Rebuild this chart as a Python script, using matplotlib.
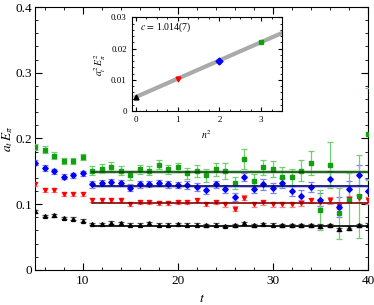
import numpy as np
import matplotlib
matplotlib.use("Agg")
import matplotlib.pyplot as plt
from matplotlib.ticker import MultipleLocator, FuncFormatter

plt.rcParams["font.family"] = ["Liberation Serif", "DejaVu Serif"]
plt.rcParams["mathtext.fontset"] = "stix"

t = np.arange(5, 41)

# a_t E_pi for the four momenta (n^2 = 0, 1, 2, 3)
black = [0.089, 0.082, 0.083, 0.079, 0.078, 0.075, 0.070, 0.070, 0.072, 0.071,
         0.069, 0.069, 0.071, 0.069, 0.069, 0.070, 0.069, 0.069, 0.068, 0.069,
         0.067, 0.068, 0.071, 0.068, 0.070, 0.069, 0.068, 0.068, 0.068, 0.068,
         0.067, 0.068, 0.062, 0.064, 0.068, 0.069]
black_err = [0.002] * 6 + [0.002] * 20 + [0.0025] * 10

red = [0.131, 0.122, 0.121, 0.116, 0.116, 0.116, 0.106, 0.106, 0.107, 0.106,
       0.100, 0.103, 0.104, 0.102, 0.102, 0.103, 0.103, 0.106, 0.100, 0.103,
       0.100, 0.093, 0.110, 0.100, 0.103, 0.100, 0.100, 0.100, 0.102, 0.106,
       0.103, 0.106, 0.098, 0.108, 0.109, 0.106]
red_err = [0.003] * 20 + [0.004] * 10 + [0.005] * 6

blue = [0.163, 0.155, 0.150, 0.142, 0.144, 0.147, 0.130, 0.132, 0.134, 0.132,
        0.125, 0.130, 0.131, 0.132, 0.130, 0.129, 0.129, 0.126, 0.121, 0.130,
        0.123, 0.111, 0.141, 0.123, 0.130, 0.125, 0.132, 0.120, 0.113, 0.126,
        0.107, 0.139, 0.096, 0.123, 0.144, 0.120]
blue_err = [0.004] * 6 + [0.005] * 10 + [0.006] * 8 + [0.008] * 6 + \
           [0.010, 0.012, 0.015, 0.012, 0.015, 0.018]

green = [0.187, 0.183, 0.174, 0.166, 0.166, 0.172, 0.151, 0.154, 0.157, 0.151,
         0.144, 0.153, 0.151, 0.160, 0.153, 0.156, 0.147, 0.151, 0.144, 0.153,
         0.151, 0.132, 0.169, 0.136, 0.156, 0.153, 0.142, 0.141, 0.151, 0.163,
         0.091, 0.159, 0.086, 0.106, 0.112, 0.207]
green_err = [0.005] * 6 + [0.007] * 10 + [0.008, 0.009, 0.010, 0.010, 0.012,
             0.009, 0.015, 0.010, 0.012, 0.012, 0.014, 0.012, 0.016, 0.018,
             0.030, 0.035, 0.039, 0.042, 0.063, 0.070]

fits = [0.067, 0.102, 0.127, 0.149]
fit_err = [0.0012, 0.0015, 0.002, 0.0025]
n2 = [0, 1, 2, 3]

series = [
    (black, black_err, "^", "black", "#555555", "black"),
    (red, red_err, "v", "red", "#ff8080", "#7a0000"),
    (blue, blue_err, "D", "blue", "#7f7fff", "#000060"),
    (green, green_err, "s", "#10a010", "#70d070", "#103010"),
]


def short(v, pos):
    if abs(v) < 1e-9:
        return "0"
    return ("%g" % round(v, 4))


fig = plt.figure(figsize=(3.74, 3.05), dpi=100)
ax = fig.add_axes([0.094, 0.115, 0.89, 0.862])

for (y, e, m, c, ec, lc), f, fe in zip(series, fits, fit_err):
    ax.errorbar(t, y, yerr=e, fmt=m, color=c, ecolor=ec, ms=2.8,
                elinewidth=0.9, capsize=2.5, capthick=0.9, zorder=3)
    ax.fill_between([11, 40], f - fe, f + fe, color=ec, alpha=0.5, lw=0, zorder=2)
    ax.plot([11, 40], [f, f], color=lc, lw=1.1, zorder=4)

ax.set_xlim(5, 40)
ax.set_ylim(0, 0.4)
ax.xaxis.set_major_locator(MultipleLocator(10))
ax.xaxis.set_minor_locator(MultipleLocator(2))
ax.yaxis.set_major_locator(MultipleLocator(0.1))
ax.yaxis.set_minor_locator(MultipleLocator(0.02))
ax.yaxis.set_major_formatter(FuncFormatter(short))
ax.tick_params(which="both", direction="in", top=True, right=True, labelsize=9.5)
ax.tick_params(which="major", length=5)
ax.tick_params(which="minor", length=2.5)
ax.tick_params(axis="y", pad=2)
ax.set_xlabel("$t$", fontsize=10, labelpad=4)
ax.set_ylabel(r"$a_t\,E_\pi$", fontsize=9.5)
ax.yaxis.set_label_coords(-0.062, 0.5)

# inset: dispersion relation
ins = fig.add_axes([0.352, 0.636, 0.402, 0.307])
xs = np.array([0, 3.5])
ins.plot(xs, fits[0] ** 2 + 0.00586 * xs, color="#aaaaaa", lw=3, zorder=1)
for (y, e, m, c, ec, lc), f, n in zip(series, fits, n2):
    ins.plot(n, f ** 2, m, color=c, ms=3.5, zorder=3)
ins.set_xlim(-0.1, 3.5)
ins.set_ylim(0, 0.03)
ins.xaxis.set_major_locator(MultipleLocator(1))
ins.xaxis.set_minor_locator(MultipleLocator(0.25))
ins.yaxis.set_major_locator(MultipleLocator(0.01))
ins.yaxis.set_minor_locator(MultipleLocator(0.002))
ins.yaxis.set_major_formatter(FuncFormatter(short))
ins.tick_params(which="both", direction="in", top=True, right=True, labelsize=6.5)
ins.tick_params(which="major", length=3)
ins.tick_params(which="minor", length=1.5)
ins.set_xlabel("$n^2$", fontsize=7, labelpad=3)
ins.set_ylabel(r"$a_t^2\,E_\pi^2$", fontsize=7, labelpad=2)
ins.text(0.1, 0.026, "$c\\,=\\,$1.014(7)", fontsize=7)

fig.savefig("out.png", dpi=100)
